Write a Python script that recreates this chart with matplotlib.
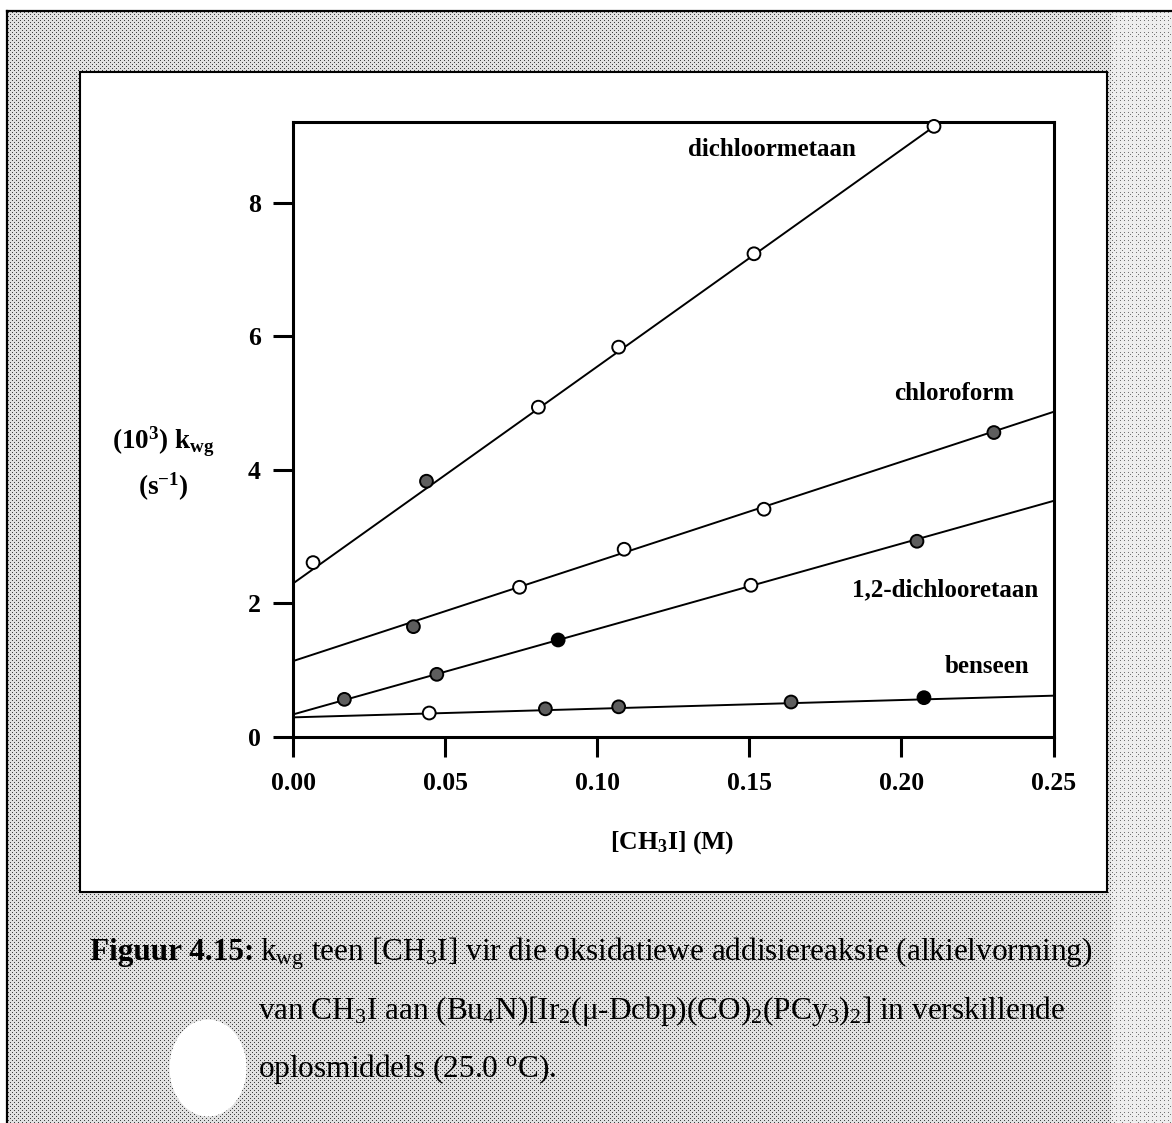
import numpy as np
import matplotlib
matplotlib.use("Agg")
import matplotlib.pyplot as plt
from matplotlib.patches import Rectangle, Ellipse
from matplotlib.lines import Line2D

plt.rcParams['font.family'] = ['Liberation Serif', 'DejaVu Serif']
plt.rcParams['mathtext.default'] = 'regular'

# ---- data: rate constant (10^3 k_wg, s^-1) vs [CH3I] (M) in four solvents ----
solvents = ["dichloormetaan", "chloroform", "1,2-dichlooretaan", "benseen"]

dcm_x = [0.0065, 0.0438, 0.0806, 0.107, 0.1515, 0.2107]
dcm_y = [2.61, 3.83, 4.94, 5.84, 7.24, 9.15]
dcm_fill = ["open", "dark", "open", "open", "open", "open"]

chl_x = [0.0395, 0.0744, 0.1088, 0.1548, 0.2304]
chl_y = [1.65, 2.24, 2.81, 3.41, 4.56]
chl_fill = ["dark", "open", "open", "open", "dark"]

dce_x = [0.0168, 0.0472, 0.0871, 0.1505, 0.2051]
dce_y = [0.56, 0.935, 1.45, 2.27, 2.93]
dce_fill = ["dark", "dark", "solid", "open", "dark"]

ben_x = [0.0447, 0.0829, 0.107, 0.1637, 0.2074]
ben_y = [0.355, 0.418, 0.448, 0.52, 0.585]
ben_fill = ["open", "dark", "dark", "dark", "solid"]

# linear fits: k = intercept + slope * [CH3I]
fit_intercept = [2.30, 1.135, 0.335, 0.29]
fit_slope = [32.5, 14.94, 12.8, 1.30]

x_ticks = [0.00, 0.05, 0.10, 0.15, 0.20, 0.25]
x_ticklabels = ["0.00", "0.05", "0.10", "0.15", "0.20", "0.25"]
y_ticks = [0, 2, 4, 6, 8]
y_ticklabels = ["0", "2", "4", "6", "8"]

series = [
    (dcm_x, dcm_y, dcm_fill),
    (chl_x, chl_y, chl_fill),
    (dce_x, dce_y, dce_fill),
    (ben_x, ben_y, ben_fill),
]
face_colors = {"open": "white", "dark": "#5e5e5e", "solid": "black"}

# ---- figure and halftone page background ----
W, H = 1172, 1123
fig = plt.figure(figsize=(W / 100, H / 100), dpi=100)
fig.patch.set_facecolor("white")

ii, jj = np.mgrid[0:H, 0:W]
page = np.full((H, W), 0.88)
dots = ((ii % 4 == 0) & (jj % 4 == 0)) | ((ii % 4 == 2) & (jj % 4 == 2))
page[dots] = 0.25
# lighter screen along the right margin
right = jj > 1110
page[right] = 0.93
page[right & (((ii % 4 == 0) & (jj % 4 == 0)) | ((ii % 8 == 2) & (jj % 8 == 2)))] = 0.45
fig.figimage(page, cmap="gray", vmin=0, vmax=1, origin="upper", zorder=-10)


def fx(px):
    return px / W


def fy(py):
    return (H - py) / H


# white margin outside the page frame
fig.patches.append(Rectangle((0, fy(11)), 1, 1, transform=fig.transFigure,
                             facecolor="white", edgecolor="none", zorder=-5))
fig.patches.append(Rectangle((0, 0), fx(7), 1, transform=fig.transFigure,
                             facecolor="white", edgecolor="none", zorder=-5))
fig.add_artist(Line2D([fx(7), 1], [fy(11), fy(11)], transform=fig.transFigure,
                      color="black", lw=1.6))
fig.add_artist(Line2D([fx(7), fx(7)], [0, fy(11)], transform=fig.transFigure,
                      color="black", lw=1.6))

# white panel holding the plot
fig.patches.append(Rectangle((fx(80), fy(892)), fx(1107) - fx(80), fy(72) - fy(892),
                             transform=fig.transFigure, facecolor="white",
                             edgecolor="black", lw=1.5, zorder=-4))

# pale blotch in the caption area
fig.patches.append(Ellipse((fx(208), fy(1068)), fx(77), 97 / H,
                           transform=fig.transFigure, facecolor="white",
                           edgecolor="none", zorder=-4))

# ---- axes ----
ax = fig.add_axes([fx(293.3), fy(736.7), fx(1053.5) - fx(293.3), fy(121.7) - fy(736.7)])
ax.set_facecolor("none")
ax.set_xlim(0, 0.25)
ax.set_ylim(0, 9.22)

xx = np.array([0.0, 0.25])
for (sx, sy, sf), b, m in zip(series, fit_intercept, fit_slope):
    ax.plot(xx, b + m * xx, color="black", lw=1.4, zorder=2)
    ax.scatter(sx, sy, s=85, facecolors=[face_colors[f] for f in sf],
               edgecolors="black", linewidths=1.4, zorder=3, clip_on=False)

for side in ["left", "right", "top", "bottom"]:
    ax.spines[side].set_linewidth(2.2)

ax.set_xticks(x_ticks)
ax.set_xticklabels(x_ticklabels)
ax.set_yticks(y_ticks)
ax.set_yticklabels(y_ticklabels)
ax.tick_params(axis="both", direction="out", length=14.4, width=2.2,
               labelsize=18.5, top=False, right=False)
ax.tick_params(axis="x", pad=11)
ax.tick_params(axis="y", pad=9)
for lbl in ax.get_xticklabels() + ax.get_yticklabels():
    lbl.set_fontweight("bold")

# curve labels
label_pos = [(0.1574, 8.80), (0.2173, 5.15), (0.2144, 2.20), (0.2282, 1.045)]
for name, (lx, ly) in zip(solvents, label_pos):
    ax.text(lx, ly, name, ha="center", va="center", fontsize=18,
            fontweight="bold")

# axis titles
fig.text(fx(672), fy(843), r"[CH$_3$I] (M)", ha="center", va="center",
         fontsize=18.5, fontweight="bold")
fig.text(fx(163), fy(442), r"(10$^3$) k$_{wg}$", ha="center", va="center",
         fontsize=19.5, fontweight="bold")
fig.text(fx(163), fy(487), r"(s$^{-1}$)", ha="center", va="center",
         fontsize=19.5, fontweight="bold")

# ---- caption ----
cap_size = 22.5
t1 = fig.text(fx(90), fy(960), "Figuur 4.15:", ha="left", va="baseline",
              fontsize=cap_size, fontweight="bold")
renderer = fig.canvas.get_renderer()
bb = t1.get_window_extent(renderer)
fig.text((bb.x1 + 6) / W, fy(960),
         r"k$_{wg}$ teen [CH$_3$I] vir die oksidatiewe addisiereaksie (alkielvorming)",
         ha="left", va="baseline", fontsize=cap_size)
fig.text(fx(258), fy(1019),
         r"van CH$_3$I aan (Bu$_4$N)[Ir$_2$(μ-Dcbp)(CO)$_2$(PCy$_3$)$_2$] in verskillende",
         ha="left", va="baseline", fontsize=cap_size)
fig.text(fx(258), fy(1077), r"oplosmiddels (25.0 $^o$C).",
         ha="left", va="baseline", fontsize=cap_size)

fig.savefig("out.png", dpi=100)
